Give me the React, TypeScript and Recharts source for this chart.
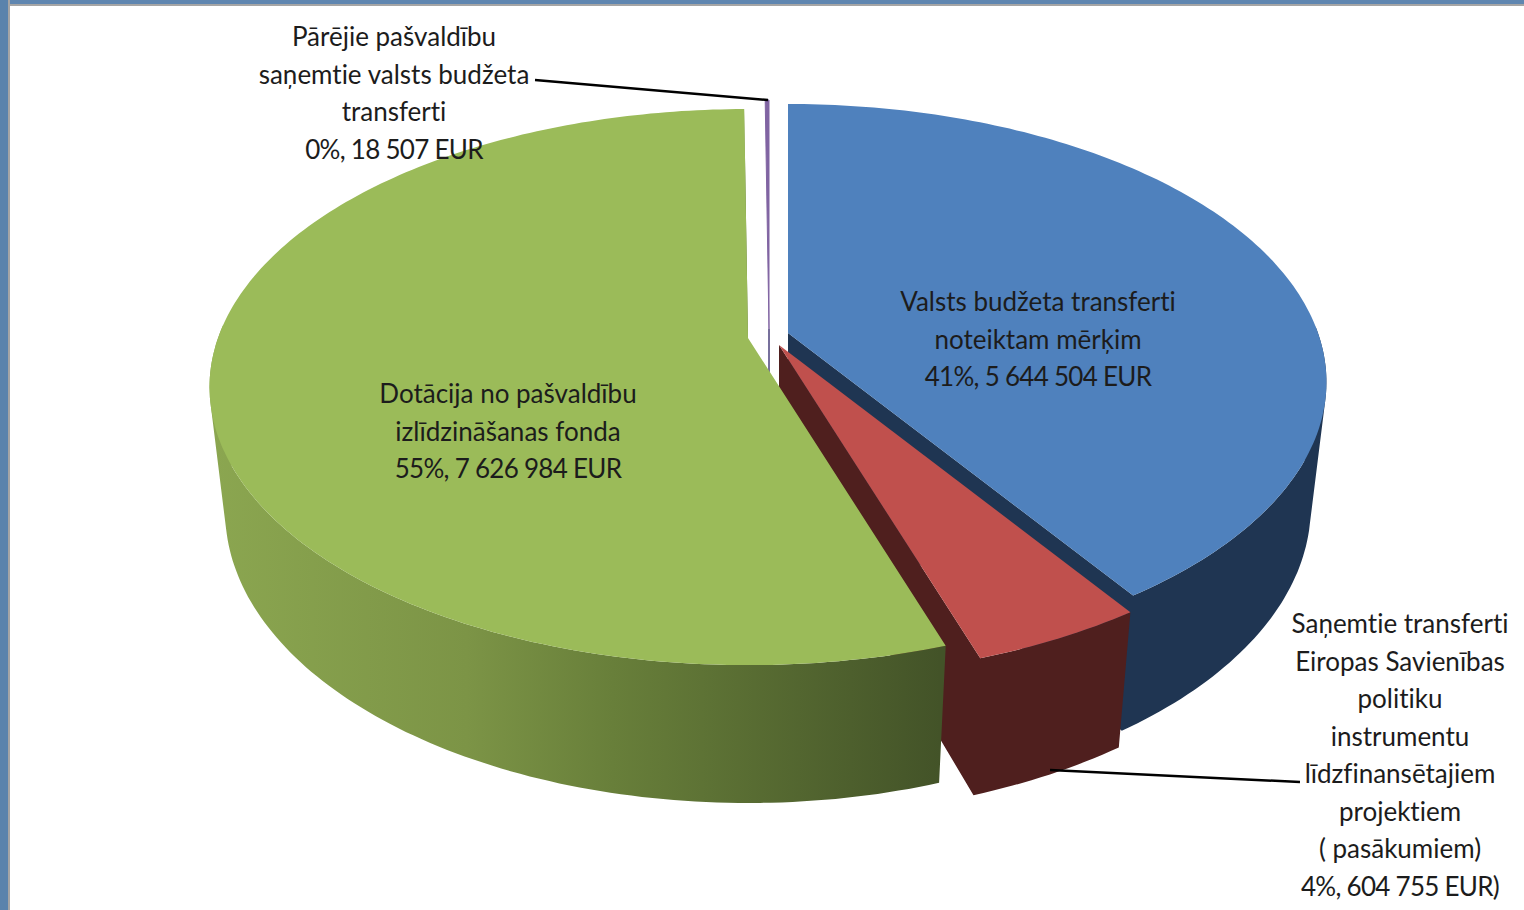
import { PieChart, Pie, Cell } from 'recharts';

// drawn first so the thin slice sits behind the others
const CATEGORY_LINES = [
  ['Pārējie pašvaldību', 'saņemtie valsts budžeta', 'transferti'],
  ['Valsts budžeta transferti', 'noteiktam mērķim'],
  ['Saņemtie transferti', 'Eiropas Savienības', 'politiku', 'instrumentu', 'līdzfinansētajiem', 'projektiem', '( pasākumiem)'],
  ['Dotācija no pašvaldību', 'izlīdzināšanas fonda'],
];
const VALUES = [18507, 5644504, 604755, 7626984];
const VALUE_LABELS = ['0%, 18 507 EUR', '41%, 5 644 504 EUR', '4%, 604 755 EUR)', '55%, 7 626 984 EUR'];

const TOP_COLORS = ['#8064a2', '#4f81bd', '#c0504d', '#9bbb59'];
const WALL_COLORS = ['#77709c', '#1f3552', '#4f1f1e', 'url(#greenWall)'];

// where each exploded slice has its tip on the page, and how far its rim is pushed out
const TIPS = [
  { x: 769, y: 329 },
  { x: 788, y: 333 },
  { x: 779, y: 345 },
  { x: 748, y: 338 },
];
const RIM_SCALE = [1, 1, 1.018, 1];
const LABEL_SPOTS = [
  { x: 394, y: 36 },
  { x: 1038, y: 301 },
  { x: 1400, y: 623 },
  { x: 508, y: 393 },
];
const LEADERS: (number[] | null)[] = [[535, 80, 768, 100], null, [1050, 770, 1300, 782], null];

const WIDTH = 1524;
const HEIGHT = 910;
const RADIUS = 530;
const LINE_STEP = 37.5;
const TILT = 0.5083;
const PERSPECTIVE = 0.1765;
const DEPTH = 127;
const DEPTH_SHRINK = 0.029;

const total = VALUES.reduce((a, b) => a + b, 0);
const START_ANGLE = 90 + (VALUES[0] / total) * 360;

const chartData = VALUES.map((value, i) => ({ name: CATEGORY_LINES[i].join(' '), value }));

type Pt = { x: number; y: number };

function project(tip: Pt, R: number, angle: number, r: number, h: number): Pt {
  const a = (angle * Math.PI) / 180;
  const u = Math.cos(a) * r;
  const v = -Math.sin(a) * r;
  const w = 1 - PERSPECTIVE * v + DEPTH_SHRINK * h;
  return { x: tip.x + (R * u) / w, y: tip.y + (R * TILT * v + DEPTH * h) / w };
}

function toPath(points: Pt[]) {
  return points.map((p, i) => `${i ? 'L' : 'M'}${p.x.toFixed(1)} ${p.y.toFixed(1)}`).join('') + 'Z';
}

// same winding for every quad, so overlapping ones in one path never cancel out
function quadPath(a: Pt, b: Pt, c: Pt, d: Pt) {
  const pts = [a, b, c, d];
  const area = pts.reduce((sum, p, i) => {
    const q = pts[(i + 1) % 4];
    return sum + p.x * q.y - q.x * p.y;
  }, 0);
  return toPath(area < 0 ? pts.reverse() : pts);
}

function arcAngles(from: number, to: number) {
  const steps = Math.max(2, Math.ceil(Math.abs(from - to)));
  const out: number[] = [];
  for (let i = 0; i <= steps; i++) out.push(from + ((to - from) * i) / steps);
  return out;
}

function Slice3D(props: any) {
  const { startAngle, endAngle, outerRadius, index } = props;
  const tip = TIPS[index];
  const R = outerRadius * RIM_SCALE[index];
  const angles = arcAngles(startAngle, endAngle);
  const top = angles.map((a) => project(tip, R, a, 1, 0));
  const base = angles.map((a) => project(tip, R, a, 1, 1));
  const tipBase = project(tip, R, 0, 0, 1);
  const wall = WALL_COLORS[index];
  const last = angles.length - 1;

  // outer wall swept from top rim to bottom rim, front half only (the back is under the top face)
  const strips: string[] = [];
  for (let i = 0; i < last; i++) {
    if (Math.sin((angles[i] * Math.PI) / 180) < 0.03) {
      strips.push(quadPath(top[i], top[i + 1], base[i + 1], base[i]));
    }
  }
  const endSide = quadPath(tip, top[last], base[last], tipBase);

  return (
    <g>
      {index === 0 ? (
        <line x1={tip.x} y1={tip.y} x2={tipBase.x} y2={tipBase.y} stroke={wall} strokeWidth={2} />
      ) : (
        <path d={endSide + strips.join('')} fill={wall} />
      )}
      <path
        d={toPath([tip, ...top])}
        fill={TOP_COLORS[index]}
        stroke={index === 0 ? TOP_COLORS[index] : 'none'}
        strokeWidth={index === 0 ? 1 : 0}
      />
    </g>
  );
}

function SliceLabel(props: any) {
  const { index } = props;
  const spot = LABEL_SPOTS[index];
  const leader = LEADERS[index];
  const lines = [...CATEGORY_LINES[index], VALUE_LABELS[index]];
  return (
    <g>
      {leader && (
        <line x1={leader[0]} y1={leader[1]} x2={leader[2]} y2={leader[3]} stroke="#000" strokeWidth={2.5} />
      )}
      {lines.map((line, i) => (
        <text
          key={i}
          x={spot.x}
          y={spot.y + i * LINE_STEP}
          textAnchor="middle"
          dominantBaseline="central"
          fontFamily="Lato, sans-serif"
          fontSize={26}
          fill="#1c1c1c"
          style={{ fontVariantLigatures: 'none', letterSpacing: i === lines.length - 1 ? -0.72 : 0 }}
        >
          {line}
        </text>
      ))}
    </g>
  );
}

export default function App() {
  return (
    <div style={{ position: 'absolute', left: 0, top: 0, width: WIDTH, height: HEIGHT, overflow: 'hidden', background: '#fff' }}>
      <div style={{ position: 'absolute', left: 0, top: 0, width: WIDTH, height: 4, background: '#5f86b0', borderBottom: '2px solid #a5a5a5' }} />
      <div style={{ position: 'absolute', left: 0, top: 0, width: 8, height: HEIGHT, background: '#5a83ac', borderRight: '2px solid #a5a5a5' }} />
      <div style={{ position: 'absolute', left: 0, top: 0 }}>
        <PieChart width={WIDTH} height={HEIGHT} margin={{ top: 0, right: 0, bottom: 0, left: 0 }}>
          <defs>
            <linearGradient id="greenWall" gradientUnits="userSpaceOnUse" x1={212} y1={0} x2={940} y2={0}>
              <stop offset="0%" stopColor="#8ba650" />
              <stop offset="35%" stopColor="#7c9446" />
              <stop offset="55%" stopColor="#687f3a" />
              <stop offset="100%" stopColor="#435328" />
            </linearGradient>
          </defs>
          <Pie
            data={chartData}
            dataKey="value"
            nameKey="name"
            cx={748}
            cy={338}
            innerRadius={0}
            outerRadius={RADIUS}
            startAngle={START_ANGLE}
            endAngle={START_ANGLE - 360}
            stroke="none"
            shape={Slice3D}
            label={SliceLabel}
            labelLine={false}
            isAnimationActive={false}
          >
            {chartData.map((entry, i) => (
              <Cell key={entry.name} fill={TOP_COLORS[i]} />
            ))}
          </Pie>
        </PieChart>
      </div>
    </div>
  );
}
